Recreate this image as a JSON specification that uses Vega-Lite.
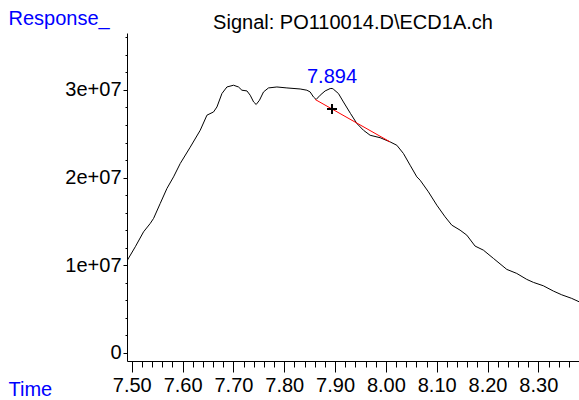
{
  "$schema": "https://vega.github.io/schema/vega-lite/v6.json",
  "autosize": {"type": "none"},
  "padding": {"left": 127, "top": 33, "right": 0, "bottom": 39},
  "width": 452,
  "height": 328,
  "background": "white",
  "config": {
    "view": {"stroke": null},
    "font": "Liberation Sans",
    "axis": {"grid": false, "domainColor": "black", "tickColor": "black", "labelColor": "black", "labelFont": "Liberation Sans", "labelFontSize": 20, "titleFont": "Liberation Sans", "titleFontSize": 20, "titleFontWeight": "normal", "titleColor": "#0000ff"}
  },
  "title": {"text": "Signal: PO110014.D\\ECD1A.ch", "anchor": "middle", "frame": "group", "fontSize": 20, "fontWeight": "normal", "font": "Liberation Sans", "color": "black", "baseline": "alphabetic", "offset": -41},
  "datasets": {
    "signal": [
      {"t": 7.4906, "r": 10500000}, {"t": 7.5069, "r": 12100000}, {"t": 7.5232, "r": 13810000}, {"t": 7.5364, "r": 14770000},
      {"t": 7.5429, "r": 15340000}, {"t": 7.5560, "r": 17050000}, {"t": 7.5692, "r": 18760000}, {"t": 7.5822, "r": 20080000},
      {"t": 7.5954, "r": 21610000}, {"t": 7.6150, "r": 23470000}, {"t": 7.6347, "r": 25400000}, {"t": 7.6479, "r": 27120000},
      {"t": 7.6609, "r": 27490000}, {"t": 7.6676, "r": 28060000}, {"t": 7.6774, "r": 29590000}, {"t": 7.6872, "r": 30340000},
      {"t": 7.7002, "r": 30540000}, {"t": 7.7100, "r": 30340000}, {"t": 7.7167, "r": 29970000}, {"t": 7.7266, "r": 29890000},
      {"t": 7.7330, "r": 29400000}, {"t": 7.7397, "r": 28630000}, {"t": 7.7448, "r": 28340000}, {"t": 7.7513, "r": 28830000},
      {"t": 7.7592, "r": 29770000}, {"t": 7.7690, "r": 30230000}, {"t": 7.7855, "r": 30340000}, {"t": 7.8052, "r": 30230000},
      {"t": 7.8314, "r": 30110000}, {"t": 7.8445, "r": 29970000}, {"t": 7.8510, "r": 29770000}, {"t": 7.8575, "r": 29200000},
      {"t": 7.8628, "r": 28910000}, {"t": 7.8707, "r": 29400000}, {"t": 7.8805, "r": 29890000}, {"t": 7.8904, "r": 30160000},
      {"t": 7.8943, "r": 30170000}, {"t": 7.8969, "r": 30080000}, {"t": 7.9067, "r": 29590000}, {"t": 7.9165, "r": 28630000},
      {"t": 7.9304, "r": 27310000}, {"t": 7.9429, "r": 26170000}, {"t": 7.9559, "r": 25400000}, {"t": 7.9690, "r": 24830000},
      {"t": 7.9887, "r": 24550000}, {"t": 8.0084, "r": 24070000}, {"t": 8.0215, "r": 23690000}, {"t": 8.0345, "r": 22750000},
      {"t": 8.0477, "r": 21410000}, {"t": 8.0609, "r": 20080000}, {"t": 8.0674, "r": 19700000}, {"t": 8.0837, "r": 18370000},
      {"t": 8.1002, "r": 16850000}, {"t": 8.1165, "r": 15520000}, {"t": 8.1297, "r": 14570000}, {"t": 8.1460, "r": 14000000},
      {"t": 8.1592, "r": 13430000}, {"t": 8.1755, "r": 12180000}, {"t": 8.1918, "r": 11720000}, {"t": 8.2115, "r": 10780000},
      {"t": 8.2379, "r": 9520000}, {"t": 8.2575, "r": 9060000}, {"t": 8.2772, "r": 8380000}, {"t": 8.2902, "r": 8040000},
      {"t": 8.3098, "r": 7650000}, {"t": 8.3295, "r": 7050000}, {"t": 8.3460, "r": 6620000}, {"t": 8.3657, "r": 6210000},
      {"t": 8.3800, "r": 5830000}
    ],
    "baseline": [{"t": 7.861, "r": 28910000}, {"t": 8.0084, "r": 24070000}],
    "peak": [{"t": 7.894, "r": 30170000, "base": 27820000, "label": "7.894"}]
  },
  "layer": [
    {
      "data": {"name": "signal"},
      "mark": {"type": "line", "color": "black", "strokeWidth": 1, "clip": true},
      "encoding": {
        "x": {
          "field": "t", "type": "quantitative",
          "scale": {"domain": [7.4906, 8.38], "nice": false, "zero": false},
          "axis": {
            "title": "Time", "titleAngle": 0, "titleAlign": "left", "titleBaseline": "alphabetic", "titleX": -119, "titleY": 34,
            "values": [7.50,7.52,7.54,7.56,7.58,7.60,7.62,7.64,7.66,7.68,7.70,7.72,7.74,7.76,7.78,7.80,7.82,7.84,7.86,7.88,7.90,7.92,7.94,7.96,7.98,8.00,8.02,8.04,8.06,8.08,8.10,8.12,8.14,8.16,8.18,8.20,8.22,8.24,8.26,8.28,8.30,8.32,8.34,8.36],
            "tickCount": 200,
            "labelExpr": "abs(datum.value*10 - round(datum.value*10)) < 0.001 ? format(datum.value, '.2f') : ''",
            "tickSize": {"condition": {"test": "abs(datum.value*10 - round(datum.value*10)) < 0.001", "value": 11}, "value": 6},
            "labelPadding": 3, "labelFlush": false, "labelOverlap": false, "labelBound": false
          }
        },
        "y": {
          "field": "r", "type": "quantitative",
          "scale": {"domain": [-935000, 36500000], "nice": false, "zero": false},
          "axis": {
            "title": "Response_", "titleAngle": 0, "titleAlign": "left", "titleBaseline": "alphabetic", "titleX": -119, "titleY": -9,
            "values": [0,2000000,4000000,6000000,8000000,10000000,12000000,14000000,16000000,18000000,20000000,22000000,24000000,26000000,28000000,30000000,32000000,34000000,36000000],
            "tickCount": 200,
            "labelExpr": "datum.value == 0 ? '0' : (datum.value % 10000000 == 0 ? (datum.value/10000000) + 'e+07' : '')",
            "tickSize": {"condition": {"test": "datum.value % 10000000 == 0", "value": 4}, "value": 2},
            "labelPadding": 2, "labelOverlap": false, "labelFlush": false
          }
        }
      }
    },
    {
      "data": {"name": "baseline"},
      "mark": {"type": "line", "color": "#ff0000", "strokeWidth": 1},
      "encoding": {"x": {"field": "t", "type": "quantitative"}, "y": {"field": "r", "type": "quantitative"}}
    },
    {
      "data": {"name": "peak"},
      "mark": {"type": "point", "shape": "M-1,0L1,0M0,-1L0,1", "size": 100, "stroke": "black", "strokeWidth": 2, "filled": false, "opacity": 1},
      "encoding": {"x": {"field": "t", "type": "quantitative"}, "y": {"field": "base", "type": "quantitative"}}
    },
    {
      "data": {"name": "peak"},
      "mark": {"type": "text", "color": "#0000ff", "fontSize": 20, "font": "Liberation Sans", "baseline": "alphabetic", "align": "center", "dy": -5},
      "encoding": {"x": {"field": "t", "type": "quantitative"}, "y": {"field": "r", "type": "quantitative"}, "text": {"field": "label"}}
    }
  ]
}
